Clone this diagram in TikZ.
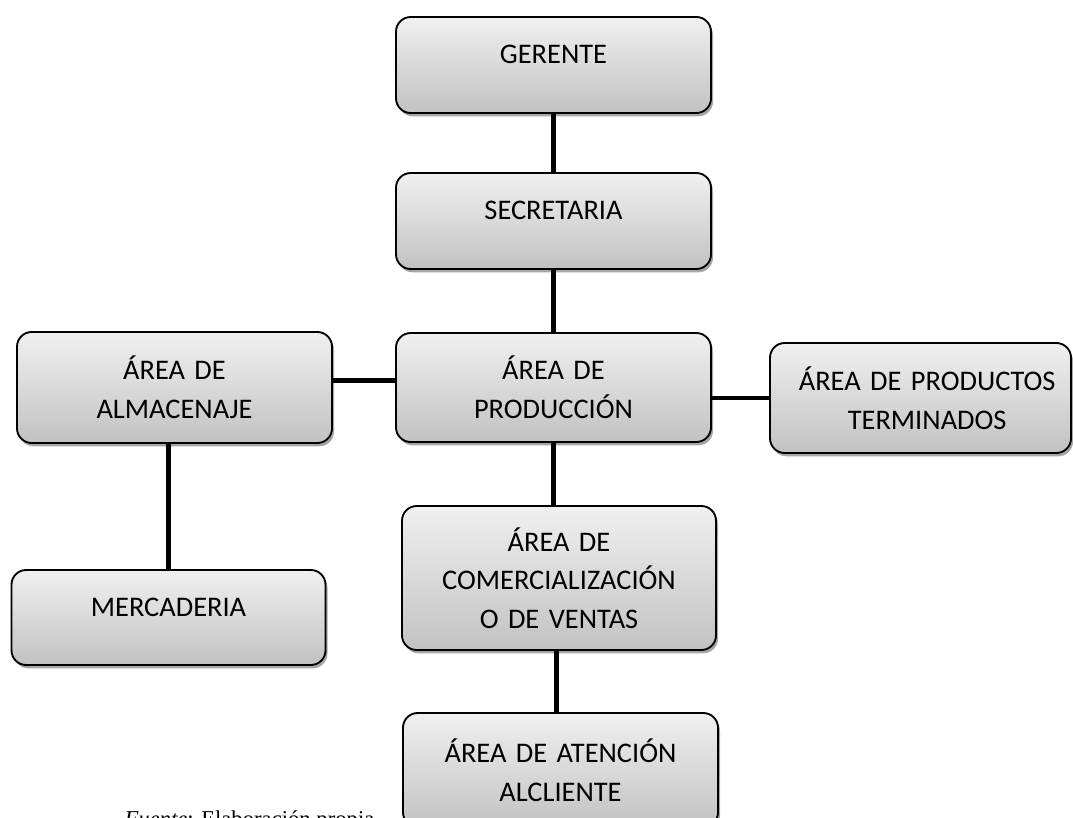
\documentclass[tikz,border=0pt]{standalone}
\usepackage{fontspec}
\setmainfont{Carlito}
\newfontfamily\fuentetimes{Liberation Serif}
\usetikzlibrary{shadows}

\definecolor{cajaArriba}{RGB}{240,240,240}
\definecolor{cajaAbajo}{RGB}{194,194,194}

\tikzset{every picture/.style={line width=0.75pt}}
\tikzset{
	caja/.style={draw=black, line width=1.4pt, rounded corners=11pt,
		top color=cajaArriba, bottom color=cajaAbajo, align=center,
		inner sep=0pt, minimum width=236.25pt, text width=225pt,
		font=\fontsize{21.3}{29}\selectfont,
		drop shadow={shadow xshift=1.5pt, shadow yshift=-2.5pt, opacity=0.35, fill=black}},
	enlace/.style={draw=black, line width=3.6pt}
}

\begin{document}
\begin{tikzpicture}[x=0.75pt,y=0.75pt,yscale=-1,xscale=1]
		\useasboundingbox (0,0) rectangle (1073,817);
		\clip (0,0) rectangle (1073,817);
		
		%Shape: cajas del organigrama
		\node[caja, minimum height=72pt] (ger) at (553.5,65) {\raisebox{1pt}[0pt][0pt]{GERENTE}};
		\node[caja, minimum height=72pt] (sec) at (553.5,221) {\raisebox{1.5pt}[0pt][0pt]{SECRETARIA}};
		\node[caja, minimum height=81.75pt] (pro) at (553.5,387.5) {ÁREA DE\\PRODUCCIÓN};
		\node[caja, minimum height=83.25pt] (alm) at (174.5,387.5) {ÁREA DE\\ALMACENAJE};
		\node[caja, minimum height=82.5pt, minimum width=225.75pt, text width=215pt] (ter) at (920.5,398) {\hspace*{10pt}ÁREA DE PRODUCTOS\\\hspace*{10pt}TERMINADOS};
		\node[caja, minimum height=71.25pt, minimum width=235.5pt] (mer) at (168.5,617.5) {\raisebox{0.5pt}[0pt][0pt]{MERCADERIA}};
		\node[caja, minimum height=108pt, minimum width=235.5pt] (com) at (559,578) {ÁREA DE\\COMERCIALIZACIÓN\\O DE VENTAS};
		\node[caja, minimum height=85.5pt] (ate) at (560.5,770) {ÁREA DE ATENCIÓN\\ALCLIENTE};
		
		%Straight Lines
		\draw[enlace] (ger.south) -- (sec.north);
		\draw[enlace] (sec.south) -- (pro.north);
		\draw[enlace] (pro.south) -- (pro.south |- com.north);
		\draw[enlace] ([xshift=-2pt]com.south) -- ([xshift=-2pt]com.south |- ate.north);
		\draw[enlace] ([yshift=-5pt]alm.east) -- ([yshift=-5pt]alm.east -| pro.west);
		\draw[enlace] (ter.west) -- (ter.west -| pro.east);
		\draw[enlace] (mer.north) -- (mer.north |- alm.south);
		
		\draw (123,826) node [anchor=base west][inner sep=0.75pt] (fuente) {\fuentetimes\fontsize{17}{20}\selectfont\textit{Fuente}: Elaboración propia};
		
	\end{tikzpicture}
\end{document}
